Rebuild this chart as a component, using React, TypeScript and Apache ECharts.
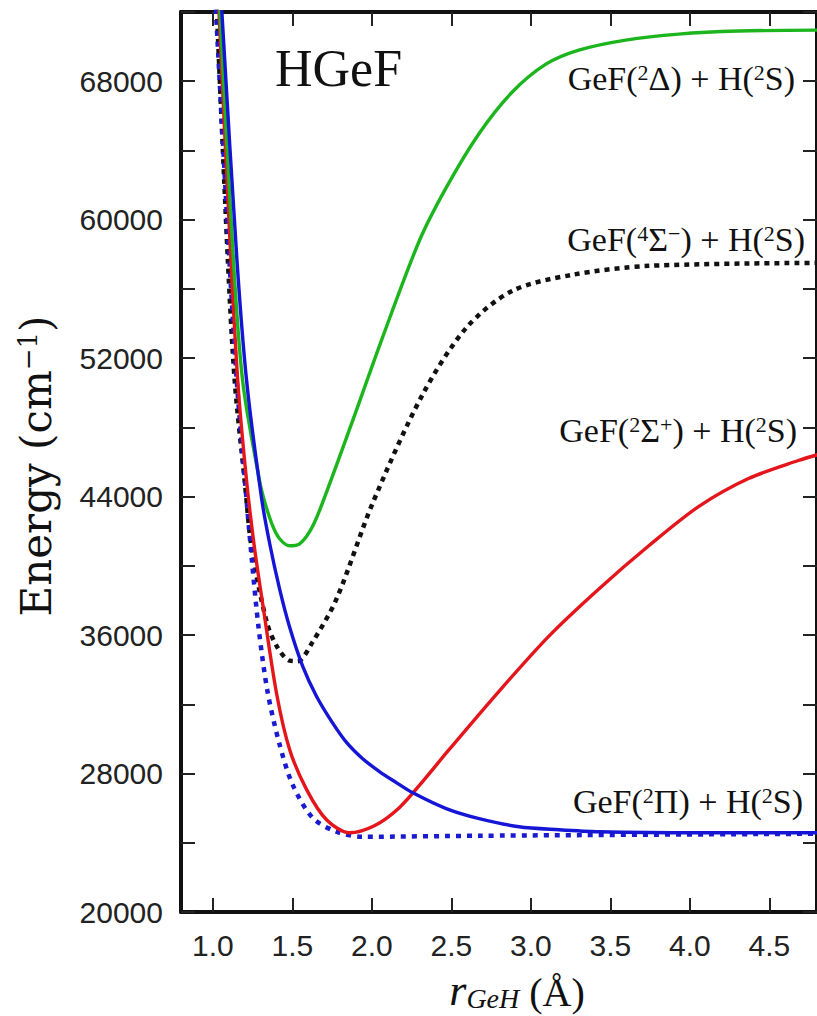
import React, { useEffect, useRef } from "react";
import * as echarts from "echarts";

// r (Å), Energy (cm^-1)
const delta2: [number, number][] = [
  [1.044, 72174], [1.125, 58377], [1.188, 50666], [1.295, 44869], [1.326, 43710],
  [1.376, 42318], [1.42, 41565], [1.483, 41159], [1.546, 41275], [1.609, 41971],
  [1.671, 43188], [1.878, 48347], [2.066, 53159], [2.299, 58782], [2.468, 61854],
  [2.675, 64985], [2.882, 67362], [3.095, 68985], [3.302, 69796], [3.597, 70376],
  [3.93, 70724], [4.306, 70898], [4.809, 70956],
];
const sigmaMinus4: [number, number][] = [
  [1.025, 72170], [1.094, 57797], [1.138, 50666], [1.201, 44869], [1.245, 40985],
  [1.339, 36753], [1.402, 35362], [1.483, 34520], [1.533, 34492], [1.627, 35594],
  [1.778, 38087], [2.004, 43594], [2.317, 49855], [2.593, 53739],
  [2.882, 55884], [3.258, 56811], [3.742, 57333], [4.809, 57507],
];
const sigmaPlus2: [number, number][] = [
  [1.038, 72174], [1.107, 58956], [1.157, 50666], [1.213, 44869], [1.263, 40985],
  [1.314, 37797], [1.402, 32579], [1.483, 29391], [1.59, 27072], [1.715, 25333],
  [1.859, 24580], [2.016, 24985], [2.173, 26029], [2.33, 27652], [2.487, 29391],
  [2.8, 32753], [3.114, 35942], [3.428, 38666], [3.742, 41159], [4.055, 43420],
  [4.369, 45043], [4.683, 46087], [4.809, 46435],
];
const pi2: [number, number][] = [
  [1.056, 72174], [1.151, 57797], [1.213, 50666], [1.307, 43884], [1.358, 41275],
  [1.42, 38666], [1.483, 36463], [1.565, 34203], [1.652, 32464], [1.747, 31014],
  [1.841, 29797], [1.941, 28869], [2.048, 28116], [2.154, 27478], [2.255, 26898],
  [2.468, 25971], [2.675, 25391], [2.926, 24927], [3.177, 24754], [3.428, 24638],
  [4.055, 24580], [4.809, 24580],
];
const pi2Dotted: [number, number][] = [
  [1.019, 72174], [1.1, 58377], [1.151, 50666], [1.201, 45043], [1.245, 40405],
  [1.289, 36348], [1.345, 32696], [1.42, 29681], [1.502, 27362], [1.627, 25449],
  [1.778, 24638], [1.941, 24348], [2.675, 24406], [4.809, 24522],
];

const xTickValues = [1.0, 1.5, 2.0, 2.5, 3.0, 3.5, 4.0, 4.5];
const yMin = 20000;
const yMax = 72000;
const yLabelStep = 8000;

const SERIF = "Liberation Serif";
const SANS = "Liberation Sans";

export default function App() {
  const ref = useRef<HTMLDivElement>(null);
  useEffect(() => {
    if (!ref.current) return;
    const chart = echarts.init(ref.current, undefined, { renderer: "svg" });
    const axisLine = { show: true, lineStyle: { color: "#111", width: 4 } };
    const tick = { show: true, inside: true, length: 14, lineStyle: { color: "#222", width: 2 } };
    const n = { fontFamily: SERIF, fontSize: 34, color: "#111" };
    const s = { fontFamily: SERIF, fontSize: 22, color: "#111", verticalAlign: "top" };
    const rich = { n, s };
    const stateLabel = (text: string, x: number, y: number) => ({
      type: "text",
      x,
      y,
      style: { text, rich, align: "right", verticalAlign: "middle", fill: "#111" },
      z: 100,
    });
    const smooth = 0.3;
    chart.setOption({
      animation: false,
      backgroundColor: "#fff",
      grid: { left: 181, top: 12, right: -2, bottom: 104, containLabel: false },
      xAxis: [
        {
          type: "value", min: 0.8, max: 4.8, position: "bottom",
          axisLine, axisTick: { ...tick, customValues: xTickValues },
          axisLabel: {
            customValues: xTickValues, margin: 18, fontFamily: SANS, fontSize: 30, color: "#222",
            formatter: (v: number) => v.toFixed(1),
          },
          splitLine: { show: false },
        },
        {
          type: "value", min: 0.8, max: 4.8, position: "top",
          axisLine, axisTick: { ...tick, customValues: xTickValues },
          axisLabel: { show: false }, splitLine: { show: false },
        },
      ],
      yAxis: [
        {
          type: "value", min: yMin, max: yMax, interval: 4000, position: "left",
          axisLine, axisTick: tick,
          axisLabel: {
            margin: 18, fontFamily: SANS, fontSize: 30, color: "#222",
            formatter: (v: number) => ((v - yMin) % yLabelStep === 0 ? String(v) : ""),
          },
          splitLine: { show: false },
        },
        {
          type: "value", min: yMin, max: yMax, interval: 4000, position: "right",
          axisLine, axisTick: tick, axisLabel: { show: false }, splitLine: { show: false },
        },
      ],
      series: [
        {
          type: "line", data: sigmaMinus4, showSymbol: false, smooth,
          lineStyle: { color: "#111", width: 4.5, type: [5, 5], cap: "butt" },
        },
        {
          type: "line", data: pi2Dotted, showSymbol: false, smooth,
          lineStyle: { color: "#1a1ad0", width: 4.5, type: [5, 6], cap: "butt" },
        },
        {
          type: "line", data: sigmaPlus2, showSymbol: false, smooth,
          lineStyle: { color: "#e4161c", width: 3.4 },
        },
        {
          type: "line", data: delta2, showSymbol: false, smooth,
          lineStyle: { color: "#1db51d", width: 3.4 },
        },
        {
          type: "line", data: pi2, showSymbol: false, smooth,
          lineStyle: { color: "#1515d6", width: 3.4 },
        },
      ],
      graphic: [
        {
          type: "text", x: 275, y: 68, z: 100,
          style: { text: "HGeF", fontFamily: SERIF, fontSize: 52, fill: "#111", verticalAlign: "middle" },
        },
        stateLabel("{n|GeF(}{s|2}{n|Δ) + H(}{s|2}{n|S)}", 795, 78),
        stateLabel("{n|GeF(}{s|4}{n|Σ}{s|−}{n|) + H(}{s|2}{n|S)}", 805, 239),
        stateLabel("{n|GeF(}{s|2}{n|Σ}{s|+}{n|) + H(}{s|2}{n|S)}", 797, 430),
        stateLabel("{n|GeF(}{s|2}{n|Π) + H(}{s|2}{n|S)}", 803, 801),
        {
          type: "text", x: 517, y: 990, z: 100,
          style: {
            text: "{r|r}{sub|GeH}{u| (Å)}",
            align: "center", verticalAlign: "middle", fill: "#111",
            rich: {
              r: { fontFamily: SERIF, fontSize: 44, fontStyle: "italic", color: "#111", verticalAlign: "bottom" },
              sub: { fontFamily: SERIF, fontSize: 28, fontStyle: "italic", color: "#111", verticalAlign: "bottom" },
              u: { fontFamily: SERIF, fontSize: 40, color: "#111", verticalAlign: "bottom" },
            },
          },
        },
        {
          type: "text", x: 36, y: 466, rotation: Math.PI / 2, z: 100,
          style: {
            text: "{n|Energy (cm}{s|−1}{n|)}",
            align: "center", verticalAlign: "middle", fill: "#111",
            rich: {
              n: { fontFamily: "DejaVu Serif", fontSize: 42, color: "#111" },
              s: { fontFamily: "DejaVu Serif", fontSize: 26, color: "#111", verticalAlign: "top" },
            },
          },
        },
      ],
    });
    return () => chart.dispose();
  }, []);
  return <div ref={ref} style={{ position: "absolute", left: 0, top: 0, width: 817, height: 1016 }} />;
}
